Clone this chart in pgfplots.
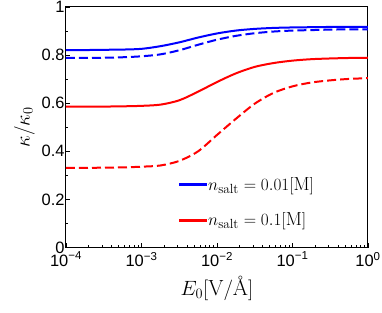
\documentclass[border=0pt]{standalone}
\usepackage{fontspec}
\usepackage{amsmath}
\usepackage{pgfplots}
\pgfplotsset{compat=1.18}
\usetikzlibrary{calc}
\newfontfamily\ticksf{Liberation Sans}
\definecolor{pblue}{RGB}{0,0,255}
\definecolor{pred}{RGB}{255,0,0}
\begin{document}
\begin{tikzpicture}
\begin{axis}[
  scale only axis, width=302bp, height=240.5bp,
  xmode=log, xmin=1e-4, xmax=1, ymin=0, ymax=1,
  xtick={1e-4,1e-3,1e-2,1e-1,1},
  xticklabels={10\textsuperscript{−4},10\textsuperscript{−3},10\textsuperscript{−2},10\textsuperscript{−1},10\textsuperscript{0}},
  ytick={0,0.2,0.4,0.6,0.8,1},
  yticklabels={0,0.2,0.4,0.6,0.8,1},
  minor ytick={0.1,0.3,0.5,0.7,0.9},
  tick align=inside, xtick pos=bottom, ytick pos=left,
  major tick length=4bp, minor tick length=2.5bp,
  axis line style={line width=1bp},
  every tick/.style={black, line width=0.8bp},
  tick label style={font=\ticksf\fontsize{16.5}{16.5}\selectfont},
  yticklabel style={xshift=2bp},
  xticklabel style={yshift=-1bp},
  xlabel={$E_0[\mathrm{V}/\text{\AA}]$},
  ylabel={$\kappa/\kappa_0$},
  label style={font=\fontsize{22}{22}\selectfont},
  xlabel style={yshift=-3bp},
  legend style={draw=none, fill=none, at={(rel axis cs:0.363,0.31)}, anchor=north west,
    font=\fontsize{19}{19}\selectfont, row sep=17bp},
  legend cell align=left,
]
\addlegendimage{legend image code/.code={\fill[pblue] (0bp,-1bp) rectangle (27bp,1bp);}}
\addlegendentry{$n_{\mathrm{salt}}=0.01[\mathrm{M}]$}
\addlegendimage{legend image code/.code={\fill[pred] (0bp,-1bp) rectangle (27bp,1bp);}}
\addlegendentry{$n_{\mathrm{salt}}=0.1[\mathrm{M}]$}
\addplot[pblue, line width=2bp, smooth, forget plot] coordinates {
(1e-4,0.821) (1.778e-4,0.821) (3.162e-4,0.822) (5.623e-4,0.823) (1e-3,0.826) (1.778e-3,0.837) (3.162e-3,0.853) (5.623e-3,0.873) (1e-2,0.890) (1.778e-2,0.902) (3.162e-2,0.909) (5.623e-2,0.913) (1e-1,0.915) (1.778e-1,0.916) (3.162e-1,0.917) (5.623e-1,0.917) (1,0.917)};
\addplot[pred, line width=2bp, smooth, forget plot] coordinates {
(1e-4,0.586) (1.778e-4,0.586) (3.162e-4,0.586) (5.623e-4,0.587) (1e-3,0.589) (1.778e-3,0.594) (3.162e-3,0.612) (5.623e-3,0.648) (1e-2,0.688) (1.778e-2,0.724) (3.162e-2,0.751) (5.623e-2,0.767) (1e-1,0.777) (1.778e-1,0.783) (3.162e-1,0.786) (5.623e-1,0.788) (1,0.789)};
\addplot[pblue, line width=2bp, smooth, dash pattern=on 9bp off 4bp, forget plot] coordinates {
(1e-4,0.788) (1.778e-4,0.788) (3.162e-4,0.789) (5.623e-4,0.791) (1e-3,0.795) (1.778e-3,0.803) (3.162e-3,0.820) (5.623e-3,0.843) (1e-2,0.864) (1.778e-2,0.880) (3.162e-2,0.891) (5.623e-2,0.898) (1e-1,0.902) (1.778e-1,0.904) (3.162e-1,0.906) (5.623e-1,0.907) (1,0.907)};
\addplot[pred, line width=2bp, smooth, dash pattern=on 9bp off 4bp, forget plot] coordinates {
(1e-4,0.331) (1.778e-4,0.331) (3.162e-4,0.332) (5.623e-4,0.333) (1e-3,0.336) (1.778e-3,0.341) (3.162e-3,0.360) (5.623e-3,0.400) (1e-2,0.468) (1.778e-2,0.535) (3.162e-2,0.598) (5.623e-2,0.643) (1e-1,0.670) (1.778e-1,0.686) (3.162e-1,0.695) (5.623e-1,0.701) (1,0.704)};
\end{axis}
\pgfresetboundingbox
\path ($(current axis.south west)+(-66bp,-65.5bp)$) rectangle ($(current axis.north east)+(14bp,7bp)$);
\end{tikzpicture}
\end{document}
